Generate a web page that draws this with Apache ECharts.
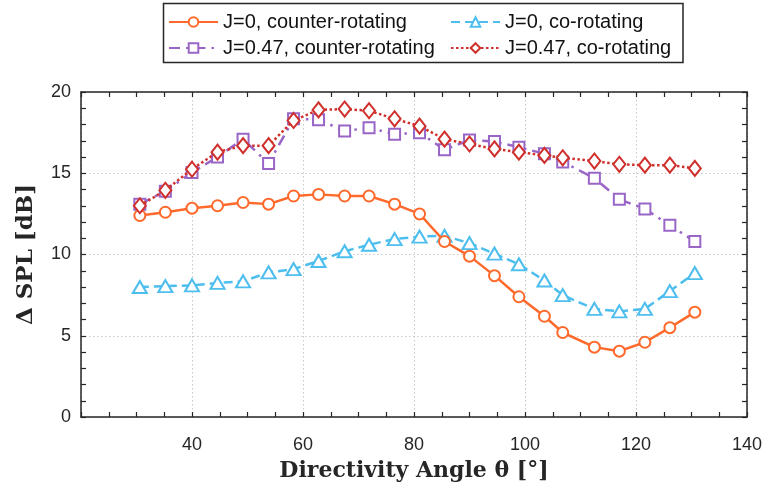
<!DOCTYPE html>
<html>
<head>
<meta charset="utf-8">
<script src="https://cdn.jsdelivr.net/npm/echarts@6/dist/echarts.min.js"></script>
<style>
  html, body { margin: 0; padding: 0; background: #fff; }
  #chart { width: 768px; height: 491px; }
</style>
</head>
<body>
<div id="chart"></div>
<script>
// Directivity angle (deg) of each measurement position
const angles = [30.6, 35.2, 40.0, 44.6, 49.2, 53.8, 58.3, 62.8, 67.5, 71.9, 76.5, 81.0,
                85.5, 90.0, 94.5, 98.9, 103.5, 106.8, 112.5, 117.0, 121.6, 126.1, 130.6];

// Delta SPL [dB] for each configuration
const j0Counter = [12.4, 12.6, 12.85, 13.0, 13.2, 13.1, 13.6, 13.7, 13.6, 13.6, 13.1, 12.5,
                   10.8, 9.9, 8.7, 7.4, 6.2, 5.2, 4.3, 4.05, 4.6, 5.5, 6.45];
const j0Co = [8.0, 8.05, 8.1, 8.25, 8.35, 8.9, 9.1, 9.6, 10.2, 10.6, 10.95, 11.1,
              11.15, 10.7, 10.05, 9.4, 8.4, 7.5, 6.65, 6.5, 6.65, 7.75, 8.85];
const j047Counter = [13.1, 13.9, 15.05, 16.0, 17.1, 15.6, 18.35, 18.3, 17.6, 17.8, 17.4, 17.5,
                     16.45, 17.05, 16.95, 16.6, 16.2, 15.7, 14.7, 13.4, 12.8, 11.8, 10.8];
const j047Co = [13.0, 13.95, 15.25, 16.3, 16.7, 16.7, 18.25, 18.9, 18.95, 18.85, 18.35, 17.9,
                17.1, 16.8, 16.5, 16.3, 16.1, 15.95, 15.75, 15.55, 15.5, 15.5, 15.3];

const seriesNames = ['J=0, counter-rotating', 'J=0, co-rotating',
                     'J=0.47, counter-rotating', 'J=0.47, co-rotating'];

const pairs = ys => angles.map((a, i) => [a, ys[i]]);

const AXIS = '#262626';
const FONT = "'Liberation Sans', Arial, sans-serif";
const SERIF = "'DejaVu Serif', serif";

const chart = echarts.init(document.getElementById('chart'), null, { renderer: 'canvas' });

function boxAxis(base, extra) {
  return Object.assign({
    axisLine: { show: true, onZero: false, lineStyle: { color: AXIS, width: 1.5 } },
    axisTick: { show: true, inside: true, length: 5, lineStyle: { color: AXIS, width: 1.2 } },
    splitLine: { show: false },
    axisLabel: { show: false }
  }, base, extra);
}

function minor(n) {
  return { show: true, inside: true, length: 5, splitNumber: n, lineStyle: { color: AXIS, width: 1.2 } };
}

const legendText = { fontFamily: FONT, fontSize: 20, color: '#111' };

const option = {
  backgroundColor: '#fff',
  animation: false,
  grid: { left: 81, right: 21, top: 92, bottom: 74, containLabel: false },
  graphic: [{
    type: 'rect',
    shape: { x: 163.5, y: 3.5, width: 519.5, height: 59 },
    style: { fill: '#fff', stroke: AXIS, lineWidth: 1.5 },
    z: 0
  }],
  legend: [
    {
      data: [seriesNames[0], seriesNames[2]],
      orient: 'vertical', left: 163, top: 7, itemGap: 6,
      itemWidth: 49, itemHeight: 12,
      textStyle: legendText, z: 5
    },
    {
      data: [seriesNames[1], seriesNames[3]],
      orient: 'vertical', left: 445, top: 7, itemGap: 6,
      itemWidth: 49, itemHeight: 12,
      textStyle: legendText, z: 5
    }
  ],
  xAxis: [
    boxAxis({
      type: 'value', min: 20, max: 140, interval: 20,
      minorTick: minor(4),
      splitLine: { show: true, lineStyle: { color: '#c8c8c8', width: 1, type: [1.5, 2.5] } },
      axisLabel: {
        show: true, margin: 19, fontFamily: FONT, fontSize: 18, color: AXIS,
        formatter: v => (v === 20 ? '' : String(v))
      },
      name: 'Directivity Angle θ [°]',
      nameLocation: 'middle', nameGap: 43,
      nameTextStyle: { fontFamily: SERIF, fontWeight: 'bold', fontSize: 22, color: AXIS }
    }),
    boxAxis({
      type: 'value', min: 20, max: 140, interval: 20, position: 'top',
      minorTick: minor(4)
    })
  ],
  yAxis: [
    boxAxis({
      type: 'value', min: 0, max: 20, interval: 5,
      minorTick: minor(5),
      splitLine: { show: true, lineStyle: { color: '#c8c8c8', width: 1, type: [1.5, 2.5] } },
      axisLabel: { show: true, margin: 10, fontFamily: FONT, fontSize: 18, color: AXIS },
      name: 'Δ SPL [dB]',
      nameLocation: 'middle', nameGap: 43, nameRotate: 90,
      nameTextStyle: { fontFamily: SERIF, fontWeight: 'bold', fontSize: 23, color: AXIS }
    }),
    boxAxis({
      type: 'value', min: 0, max: 20, interval: 5, position: 'right',
      minorTick: minor(5)
    })
  ],
  series: [
    {
      name: seriesNames[0], type: 'line', data: pairs(j0Counter), z: 4,
      symbol: 'emptyCircle', symbolSize: 11,
      itemStyle: { color: '#ff6a2c', borderWidth: 2 },
      lineStyle: { color: '#ff6a2c', width: 2.5, type: 'solid' }
    },
    {
      name: seriesNames[1], type: 'line', data: pairs(j0Co), z: 3,
      symbol: 'emptyTriangle', symbolSize: [14, 12],
      itemStyle: { color: '#4dbeee', borderWidth: 2 },
      lineStyle: { color: '#4dbeee', width: 2.5, type: [9, 5] }
    },
    {
      name: seriesNames[2], type: 'line', data: pairs(j047Counter), z: 2,
      symbol: 'emptyRect', symbolSize: 11,
      itemStyle: { color: '#9966c8', borderWidth: 2 },
      lineStyle: { color: '#9966c8', width: 2.5, type: [11, 6, 2.5, 6] }
    },
    {
      name: seriesNames[3], type: 'line', data: pairs(j047Co), z: 5,
      symbol: 'emptyDiamond', symbolSize: [12, 15],
      itemStyle: { color: '#d0302c', borderWidth: 2 },
      lineStyle: { color: '#d0302c', width: 2.5, type: [2.5, 2.5] }
    }
  ]
};

chart.setOption(option);
</script>
</body>
</html>
